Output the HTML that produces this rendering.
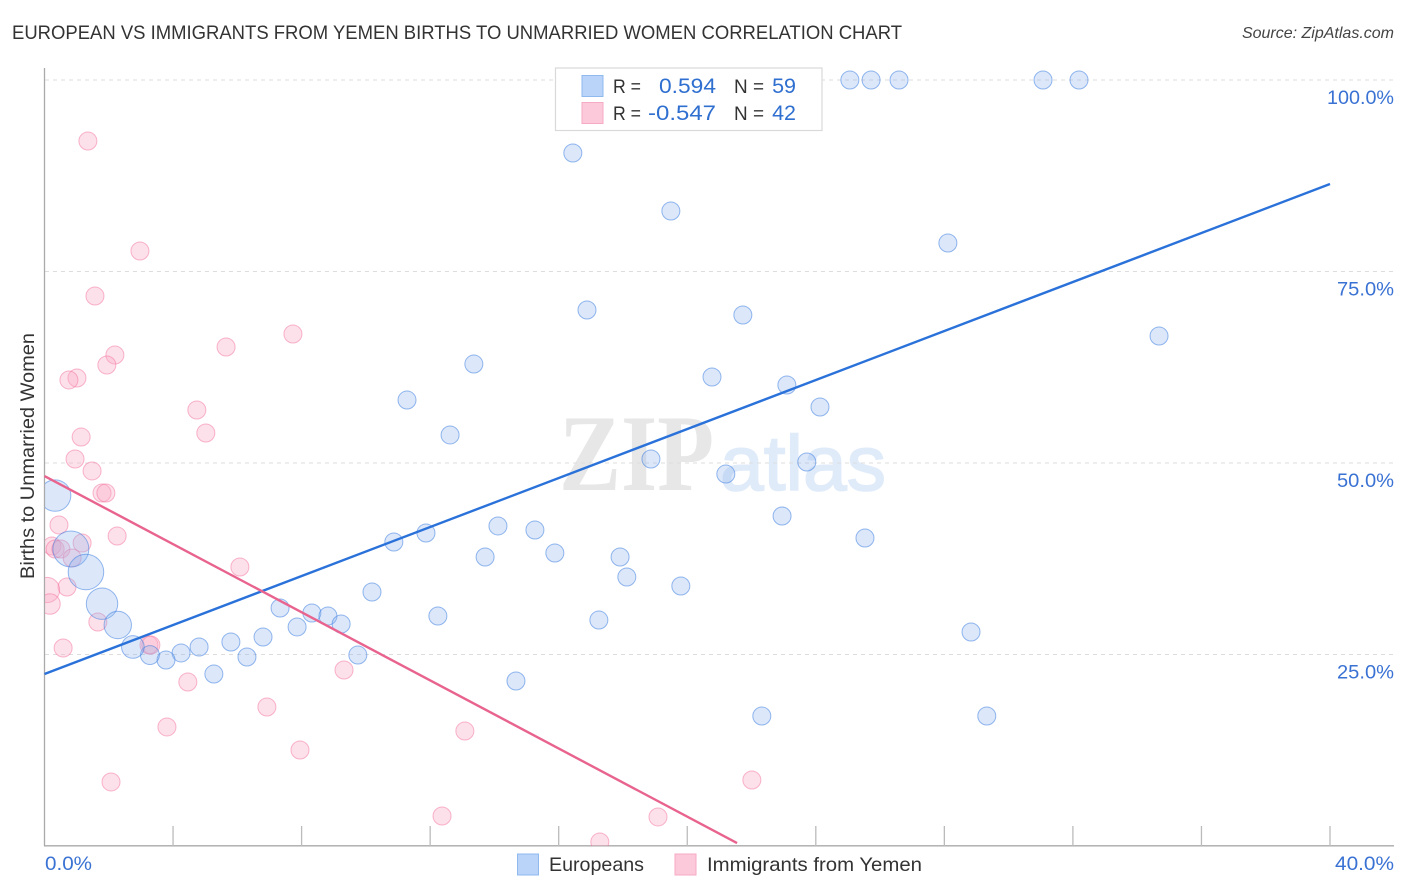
<!DOCTYPE html>
<html lang="en">
<head>
<meta charset="utf-8">
<title>European vs Immigrants from Yemen Births to Unmarried Women Correlation Chart</title>
<style>
  html, body { margin: 0; padding: 0; background: #fff; }
  svg { display: block; }
  text { font-family: "Liberation Sans", sans-serif; }
</style>
</head>
<body>
<svg id="chart" xmlns="http://www.w3.org/2000/svg" width="1406" height="892" viewBox="0 0 1406 892">
  <defs>
    <clipPath id="plot-clip"><rect x="45" y="60" width="1349" height="786"></rect></clipPath>
  </defs>
  <rect x="0" y="0" width="1406" height="892" fill="#ffffff"></rect>

  <text x="12" y="39" font-size="19" fill="#333333" textLength="890" lengthAdjust="spacingAndGlyphs">EUROPEAN VS IMMIGRANTS FROM YEMEN BIRTHS TO UNMARRIED WOMEN CORRELATION CHART</text>
  <text x="1394" y="38" font-size="16" font-style="italic" fill="#444444" text-anchor="end">Source: ZipAtlas.com</text>

  <text x="559" y="490" style="font-family:'Liberation Serif',serif" font-weight="bold" font-size="109" fill="#e7e7e7" textLength="155" lengthAdjust="spacingAndGlyphs">ZIP</text>
  <text x="720" y="490" font-size="78" fill="#e0ebfa" stroke="#e0ebfa" stroke-width="1.6" textLength="166" lengthAdjust="spacingAndGlyphs">atlas</text>

  <g id="grid-layer"></g>
  <g id="axis-layer"></g>
  <g id="point-layer" clip-path="url(#plot-clip)"></g>
  <g id="trend-layer"></g>

  <text transform="translate(34,456) rotate(-90)" font-size="19.5" fill="#333333" text-anchor="middle" textLength="246" lengthAdjust="spacingAndGlyphs">Births to Unmarried Women</text>

  <g>
    <rect x="555.5" y="68" width="266.5" height="62.5" fill="#ffffff" fill-opacity="0.93" stroke="#d9d9d9" stroke-width="1.2"></rect>
    <rect x="582" y="75.500" width="21" height="21" fill="#b9d4f8" stroke="#90b9ef" stroke-width="1"></rect>
    <text x="613" y="93" font-size="19.500" fill="#333333" textLength="28" lengthAdjust="spacingAndGlyphs">R =</text>
    <text x="659" y="93" font-size="21.500" fill="#2f6fd0" textLength="57" lengthAdjust="spacingAndGlyphs">0.594</text>
    <text x="734" y="93" font-size="19.500" fill="#333333" textLength="30" lengthAdjust="spacingAndGlyphs">N =</text>
    <text x="796" y="93" font-size="21.500" fill="#2f6fd0" text-anchor="end">59</text>
    <rect x="582" y="102.500" width="21" height="21" fill="#fcc9da" stroke="#f6aac4" stroke-width="1"></rect>
    <text x="613" y="120" font-size="19.500" fill="#333333" textLength="28" lengthAdjust="spacingAndGlyphs">R =</text>
    <text x="648" y="120" font-size="21.500" fill="#2f6fd0" textLength="68" lengthAdjust="spacingAndGlyphs">-0.547</text>
    <text x="734" y="120" font-size="19.500" fill="#333333" textLength="30" lengthAdjust="spacingAndGlyphs">N =</text>
    <text x="796" y="120" font-size="21.500" fill="#2f6fd0" text-anchor="end">42</text>
  </g>

  <g>
    <rect x="517.500" y="854" width="21" height="21" fill="#b9d4f8" stroke="#90b9ef" stroke-width="1"></rect>
    <text x="549" y="871" font-size="19.500" fill="#333333" textLength="95" lengthAdjust="spacingAndGlyphs">Europeans</text>
    <rect x="675" y="854" width="21" height="21" fill="#fcc9da" stroke="#f6aac4" stroke-width="1"></rect>
    <text x="707" y="871" font-size="19.500" fill="#333333" textLength="215" lengthAdjust="spacingAndGlyphs">Immigrants from Yemen</text>
  </g>
</svg>

<script>
// Chart data, in axis units (percent)
const xTickValues = [0, 4, 8, 12, 16, 20, 24, 28, 32, 36, 40];
const yGridValues = [25, 50, 75, 100];
const yTickLabels = ["25.0%", "50.0%", "75.0%", "100.0%"];
const xEndLabels = ["0.0%", "40.0%"];

const europeanX = [25.06, 25.72, 26.59, 31.07, 32.19, 16.44, 19.49, 28.11, 16.88, 21.73, 34.68, 13.36, 20.77, 23.10, 11.28, 24.13, 12.62, 18.87, 23.72, 21.20, 22.95, 14.11, 15.26, 11.87, 25.53, 10.87, 15.88, 13.71, 17.91, 18.12, 19.80, 10.19, 7.33, 8.32, 8.82, 12.24, 9.23, 17.25, 7.86, 28.83, 6.80, 5.80, 4.81, 4.25, 9.75, 6.30, 3.78, 3.28, 5.27, 14.67, 22.32, 29.32, 20.43, 0.33, 0.82, 1.29, 1.79, 2.28, 2.75];
const europeanY = [100, 100, 100, 100, 100, 90.47, 82.90, 78.72, 69.97, 69.32, 66.58, 62.92, 61.23, 60.18, 58.22, 57.31, 53.66, 50.52, 50.13, 48.56, 43.08, 41.78, 41.25, 40.86, 40.21, 39.69, 38.25, 37.73, 37.73, 35.12, 33.94, 33.16, 31.07, 30.42, 30.03, 30.03, 28.98, 29.50, 28.59, 27.94, 27.28, 26.63, 25.98, 25.20, 24.93, 24.67, 24.28, 24.93, 22.45, 21.54, 16.97, 16.97, 97.91, 45.75, 38.77, 35.77, 31.63, 28.85, 25.98];
const europeanWeight = [1, 1, 1, 1, 1, 1, 1, 1, 1, 1, 1, 1, 1, 1, 1, 1, 1, 1, 1, 1, 1, 1, 1, 1, 1, 1, 1, 1, 1, 1, 1, 1, 1, 1, 1, 1, 1, 1, 1, 1, 1, 1, 1, 1, 1, 1, 1, 1.1, 1, 1, 1, 1, 1, 3.05, 4, 3.9, 3.05, 2.32, 1.58];

const yemenX = [1.35, 2.97, 1.57, 7.73, 5.65, 2.19, 1.94, 1.01, 0.76, 4.74, 5.02, 1.14, 0.95, 1.48, 1.79, 1.91, 0.45, 2.26, 1.17, 0.23, 0.33, 0.51, 0.86, 6.08, 0.70, 0.08, 0.17, 1.66, 0.58, 3.25, 3.31, 9.32, 4.46, 6.92, 3.81, 13.08, 7.95, 2.07, 22.01, 12.37, 19.09, 17.28];
const yemenY = [92.04, 77.68, 71.80, 66.84, 65.14, 64.10, 62.79, 61.10, 60.84, 56.92, 53.92, 53.39, 50.52, 48.96, 46.08, 46.08, 41.91, 40.47, 39.56, 39.16, 38.77, 38.77, 37.60, 36.42, 33.81, 33.42, 31.59, 29.24, 25.85, 26.24, 26.24, 22.98, 21.41, 18.15, 15.54, 15.01, 12.53, 8.36, 8.62, 3.92, 3.79, 0.52];
const yemenWeight = [1, 1, 1, 1, 1, 1, 1, 1, 1, 1, 1, 1, 1, 1, 1, 1, 1, 1, 1, 1, 1, 1, 1, 1, 1, 1.95, 1.3, 1, 1, 1, 1, 1, 1, 1, 1, 1, 1, 1, 1, 1, 1, 1];

const europeanTrendX = [0, 40];
const europeanTrendY = [22.45, 86.42];
const yemenTrendX = [0, 21.55];
const yemenTrendY = [48.30, 0.39];

// Axis functions
function xScale(v) { return 44.5 + v * (1330 - 44.5) / 40; }
function yScale(v) { return 846 - v * (846 - 80) / 100; }
function rScale(w) { return 9 * Math.sqrt(w); }

// Label width in the reference's wider face: em-based, independent of data positions
function labelWidth(s) { return s.length === 6 ? 67 : s.length === 5 ? 57 : 47; }

const NS = "http://www.w3.org/2000/svg";
function make(tag, attrs, parent) {
  const el = document.createElementNS(NS, tag);
  for (const k in attrs) el.setAttribute(k, attrs[k]);
  parent.appendChild(el);
  return el;
}

const gridLayer = document.getElementById("grid-layer");
const axisLayer = document.getElementById("axis-layer");
const pointLayer = document.getElementById("point-layer");
const trendLayer = document.getElementById("trend-layer");

yGridValues.forEach(function (v, i) {
  const line = make("line", { x1: 45, x2: 1394, y1: yScale(v), y2: yScale(v), stroke: "#dddddd", "stroke-width": 1, "stroke-dasharray": "4 4" }, gridLayer);
  
  
  const w = labelWidth(yTickLabels[i]);
  const label = make("text", { x: 1394 - w, y: yScale(v) + 24, "font-size": 19.5, fill: "#3a72d4", textLength: w, lengthAdjust: "spacingAndGlyphs" }, axisLayer);
  label.textContent = yTickLabels[i];
  
  
});

const yAxis = make("line", { x1: 44.5, x2: 44.5, y1: 68, y2: 846, stroke: "#aaaaaa", "stroke-width": 1.3 }, axisLayer);


const xAxis = make("line", { x1: 44, x2: 1394, y1: 845.8, y2: 845.8, stroke: "#aaaaaa", "stroke-width": 1.3 }, axisLayer);



xTickValues.forEach(function (v) {
  if (v === 0 || v > 40) return;
  const tick = make("line", { x1: xScale(v), x2: xScale(v), y1: 826, y2: 846, stroke: "#bbbbbb", "stroke-width": 1.3 }, axisLayer);
  
  
});

const xStartLabel = make("text", { x: 45, y: 870, "font-size": 19.5, fill: "#3a72d4", textLength: 47, lengthAdjust: "spacingAndGlyphs" }, axisLayer);
xStartLabel.textContent = xEndLabels[0];


const xEndLabel = make("text", { x: 1335, y: 870, "font-size": 19.5, fill: "#3a72d4", textLength: 59, lengthAdjust: "spacingAndGlyphs" }, axisLayer);
xEndLabel.textContent = xEndLabels[1];



yemenX.forEach(function (v, i) {
  const c = make("circle", { cx: xScale(v), cy: yScale(yemenY[i]), r: rScale(yemenWeight[i]), fill: "#f9a8c4", "fill-opacity": 0.35, stroke: "#f3709c", "stroke-opacity": 0.5, "stroke-width": 1 }, pointLayer);
  
  
});

europeanX.forEach(function (v, i) {
  const c = make("circle", { cx: xScale(v), cy: yScale(europeanY[i]), r: rScale(europeanWeight[i]), fill: "#8ab4f0", "fill-opacity": 0.3, stroke: "#3f80e0", "stroke-opacity": 0.55, "stroke-width": 1 }, pointLayer);
  
  
});

const europeanTrend = make("line", { x1: xScale(europeanTrendX[0]), y1: yScale(europeanTrendY[0]), x2: xScale(europeanTrendX[1]), y2: yScale(europeanTrendY[1]), stroke: "#2a72d9", "stroke-width": 2.4 }, trendLayer);


const yemenTrend = make("line", { x1: xScale(yemenTrendX[0]), y1: yScale(yemenTrendY[0]), x2: xScale(yemenTrendX[1]), y2: yScale(yemenTrendY[1]), stroke: "#e8648f", "stroke-width": 2.4 }, trendLayer);


</script>
</body>
</html>
